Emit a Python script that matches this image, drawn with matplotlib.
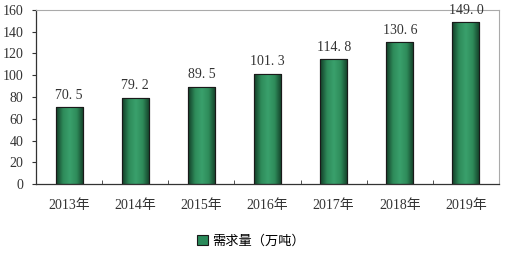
import numpy as np
import matplotlib
matplotlib.use("Agg")
import matplotlib.pyplot as plt
from matplotlib.colors import LinearSegmentedColormap
from matplotlib.patches import Patch

categories = ["2013年", "2014年", "2015年", "2016年", "2017年", "2018年", "2019年"]
values = [70.5, 79.2, 89.5, 101.3, 114.8, 130.6, 149.0]
value_labels = ["70. 5", "79. 2", "89. 5", "101. 3", "114. 8", "130. 6", "149. 0"]
series_name = "需求量（万吨）"
yticks = [0, 20, 40, 60, 80, 100, 120, 140, 160]

fam = ["Liberation Serif", "Noto Sans CJK SC", "DejaVu Sans"]
plt.rcParams["font.family"] = fam

fig = plt.figure(figsize=(5.18, 2.57), dpi=100)
ax = fig.add_axes([36/518, 1 - 184/257, (499-36)/518, (184-10)/257])

x = np.arange(len(categories))
bars = ax.bar(x, values, width=0.41, color="#2a8a5a", edgecolor="#1a1a1a", linewidth=0.8, zorder=2)

cmap = LinearSegmentedColormap.from_list("g", ["#123d27", "#2e8b5a", "#3aa06c", "#2e8b5a", "#123d27"])
grad = np.linspace(0, 1, 64).reshape(1, -1)
for b in bars:
    x0, y0 = b.get_x(), b.get_y()
    w, h = b.get_width(), b.get_height()
    im = ax.imshow(grad, extent=[x0, x0 + w, y0, y0 + h], cmap=cmap, aspect="auto", zorder=2.5)
    im.set_clip_path(b)
    ax.add_patch(plt.Rectangle((x0, y0), w, h, fill=False, edgecolor="#1a1a1a", linewidth=0.8, zorder=3))

for xi, v, lab in zip(x, values, value_labels):
    ax.text(xi, v + 5, lab, ha="center", va="bottom", fontsize=10, color="#333333")

ax.set_xlim(-0.5, len(categories) - 0.5)
ax.set_ylim(0, 160)
ax.set_yticks(yticks)
ax.set_yticklabels([str(t) for t in yticks], fontsize=10, color="#333333")
ax.set_xticks(x)
ax.set_xticklabels(categories, fontsize=10, color="#333333")
ax.tick_params(axis="x", length=0, pad=11)
ax.set_xticks(np.arange(len(categories) - 1) + 0.5, minor=True)
ax.tick_params(axis="x", which="minor", direction="in", length=3, color="#333333")
ax.tick_params(axis="y", direction="out", length=3, color="#333333", pad=6)

for s in ["top", "right"]:
    ax.spines[s].set_color("#aaaaaa")
    ax.spines[s].set_linewidth(0.8)
for s in ["left", "bottom"]:
    ax.spines[s].set_color("#333333")
    ax.spines[s].set_linewidth(0.9)

handle = Patch(facecolor="#2a8a5a", edgecolor="#1a1a1a", linewidth=0.8)
fig.legend([handle], [series_name], loc="center", bbox_to_anchor=(251/518, 1 - 241/257),
           frameon=False, fontsize=9.5, handlelength=0.8, handleheight=0.8, handletextpad=0.3)

fig.savefig("out.png", dpi=100, facecolor="white")
